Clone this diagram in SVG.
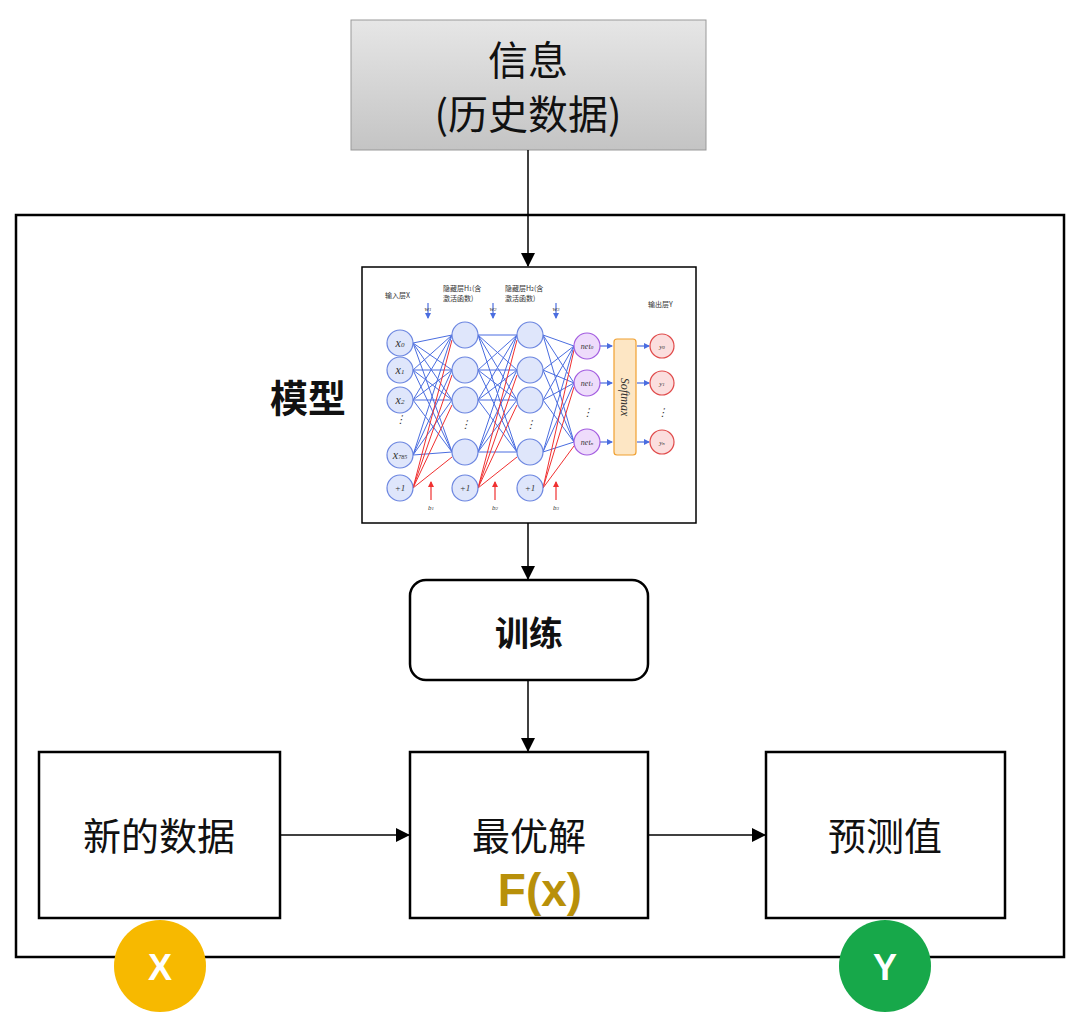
<svg xmlns="http://www.w3.org/2000/svg" width="1080" height="1033" viewBox="0 0 1080 1033">
<defs>
<linearGradient id="g" x1="0" y1="0" x2="0" y2="1"><stop offset="0" stop-color="#e6e6e6"/><stop offset="1" stop-color="#c4c4c4"/></linearGradient>
<marker id="a" markerWidth="14" markerHeight="14" refX="13" refY="7" orient="auto" markerUnits="userSpaceOnUse" viewBox="0 0 14 14"><path d="M0,0L14,7L0,14z" fill="#000"/></marker>
<marker id="b" markerWidth="6" markerHeight="6" refX="5" refY="3" orient="auto" markerUnits="userSpaceOnUse" viewBox="0 0 6 6"><path d="M0,0L6,3L0,6z" fill="#4a6de0"/></marker>
<marker id="r" markerWidth="6" markerHeight="6" refX="5" refY="3" orient="auto" markerUnits="userSpaceOnUse" viewBox="0 0 6 6"><path d="M0,0L6,3L0,6z" fill="#f03030"/></marker>
</defs>
<style>
.t{font-family:"Noto Sans CJK SC","Liberation Sans",sans-serif;fill:#111;text-anchor:middle}
.box{fill:#fff;stroke:#000;stroke-width:2.5}
.c{stroke:#000;stroke-width:1.5;fill:none;marker-end:url(#a)}
.bl{stroke:#4a6de0;stroke-width:1;fill:none}
.rd{stroke:#f03030;stroke-width:1;fill:none}
.ba{stroke:#4a6de0;stroke-width:1.2;fill:none;marker-end:url(#b)}
.ra{stroke:#f03030;stroke-width:1.2;fill:none;marker-end:url(#r)}
.n{fill:#dfe6fb;stroke:#6c86e0;stroke-width:1.2}
.o{fill:#eedcfb;stroke:#a35ce0;stroke-width:1.2}
.y{fill:#fbdede;stroke:#e04a4a;stroke-width:1.2}
.s{font-family:"Liberation Serif",serif;font-style:italic;text-anchor:middle;fill:#333}
.sm{font-family:"Noto Sans CJK SC",sans-serif;font-size:7px;fill:#333}
</style>
<rect width="1080" height="1033" fill="#fff"/>
<g id="outer"><rect x="16" y="215" width="1048" height="742" fill="none" stroke="#000" stroke-width="2.5"/></g>
<g id="info"><rect x="351" y="20" width="355" height="130" fill="url(#g)" stroke="#999" stroke-width="1"/>
<text class="t" x="528" y="75" font-size="40">信息</text><text class="t" x="528" y="129" font-size="40">(历史数据)</text></g>
<g id="model">
<text class="t" x="308" y="412" font-size="38" font-weight="bold">模型</text>
<rect x="362" y="267" width="334" height="256" fill="#fff" stroke="#000" stroke-width="1.5"/>
<g>
<path class="bl" d="M413,343L452,335M413,343L452,370M413,343L452,400M413,343L452,452M413,370L452,335M413,370L452,370M413,370L452,400M413,370L452,452M413,400L452,335M413,400L452,370M413,400L452,400M413,400L452,452M413,455L452,335M413,455L452,370M413,455L452,400M413,455L452,452"/>
<path class="rd" d="M413,488L452,340M413,488L452,375M413,488L452,405M413,488L452,457"/>
<path class="bl" d="M478,335L517,335M478,335L517,370M478,335L517,400M478,335L517,452M478,370L517,335M478,370L517,370M478,370L517,400M478,370L517,452M478,400L517,335M478,400L517,370M478,400L517,400M478,400L517,452M478,452L517,335M478,452L517,370M478,452L517,400M478,452L517,452"/>
<path class="rd" d="M478,488L517,340M478,488L517,375M478,488L517,405M478,488L517,457"/>
<path class="bl" d="M543,335L574,346M543,335L574,383M543,335L574,442M543,370L574,346M543,370L574,383M543,370L574,442M543,400L574,346M543,400L574,383M543,400L574,442M543,452L574,346M543,452L574,383M543,452L574,442"/>
<path class="rd" d="M543,488L574,350M543,488L574,387M543,488L574,446"/>
<path class="ba" d="M428,303V318"/><path class="ba" d="M493,303V318"/><path class="ba" d="M556,303V318"/>
<path class="ra" d="M431,500V482"/><path class="ra" d="M495,500V482"/><path class="ra" d="M556,500V482"/>
<path class="ba" d="M600,346H612"/><path class="ba" d="M600,383H612"/><path class="ba" d="M600,442H612"/>
<path class="ba" d="M637,346H649"/><path class="ba" d="M637,383H649"/><path class="ba" d="M637,442H649"/>
</g>
<circle class="n" cx="400" cy="343" r="13"/><circle class="n" cx="400" cy="370" r="13"/><circle class="n" cx="400" cy="400" r="13"/><circle class="n" cx="400" cy="455" r="13"/><circle class="n" cx="400" cy="488" r="13"/>
<circle class="n" cx="465" cy="335" r="13"/><circle class="n" cx="465" cy="370" r="13"/><circle class="n" cx="465" cy="400" r="13"/><circle class="n" cx="465" cy="452" r="13"/><circle class="n" cx="465" cy="488" r="13"/>
<circle class="n" cx="530" cy="335" r="13"/><circle class="n" cx="530" cy="370" r="13"/><circle class="n" cx="530" cy="400" r="13"/><circle class="n" cx="530" cy="452" r="13"/><circle class="n" cx="530" cy="488" r="13"/>
<circle class="o" cx="587" cy="346" r="13"/><circle class="o" cx="587" cy="383" r="13"/><circle class="o" cx="587" cy="442" r="13"/>
<rect x="614" y="339" width="22" height="116" rx="3" fill="#fde6c4" stroke="#f0a030" stroke-width="1.2"/>
<circle class="y" cx="662" cy="346" r="12"/><circle class="y" cx="662" cy="383" r="12"/><circle class="y" cx="662" cy="442" r="12"/>
<text class="s" font-size="12" x="400" y="347">x<tspan font-size="7">0</tspan></text>
<text class="s" font-size="12" x="400" y="374">x<tspan font-size="7">1</tspan></text>
<text class="s" font-size="12" x="400" y="404">x<tspan font-size="7">2</tspan></text>
<text class="s" font-size="12" x="400" y="459">x<tspan font-size="6">785</tspan></text>
<text class="s" font-size="9" font-style="normal" x="400" y="491">+1</text><text class="s" font-size="9" font-style="normal" x="465" y="491">+1</text><text class="s" font-size="9" font-style="normal" x="530" y="491">+1</text>
<text class="s" font-size="8" x="587" y="349">net<tspan font-size="5">0</tspan></text>
<text class="s" font-size="8" x="587" y="386">net<tspan font-size="5">1</tspan></text>
<text class="s" font-size="8" x="587" y="445">net<tspan font-size="5">n</tspan></text>
<text class="s" font-size="7" x="662" y="349">y<tspan font-size="5">0</tspan></text>
<text class="s" font-size="7" x="662" y="386">y<tspan font-size="5">1</tspan></text>
<text class="s" font-size="7" x="662" y="445">y<tspan font-size="5">n</tspan></text>
<text class="s" font-size="12" transform="translate(621,397) rotate(90)">Softmax</text>
<text class="s" font-size="11" x="400" y="423">⋮</text><text class="s" font-size="11" x="465" y="428">⋮</text><text class="s" font-size="11" x="530" y="428">⋮</text><text class="s" font-size="11" x="587" y="416">⋮</text><text class="s" font-size="11" x="662" y="416">⋮</text>
<text class="sm" x="385" y="298">输入层X</text>
<text class="sm" x="443" y="291">隐藏层H<tspan font-size="5">1</tspan>(含</text><text class="sm" x="443" y="301">激活函数)</text>
<text class="sm" x="505" y="291">隐藏层H<tspan font-size="5">2</tspan>(含</text><text class="sm" x="505" y="301">激活函数)</text>
<text class="sm" x="648" y="307">输出层Y</text>
<text class="s" font-size="7" x="428" y="311">w<tspan font-size="5">1</tspan></text><text class="s" font-size="7" x="493" y="311">w<tspan font-size="5">2</tspan></text><text class="s" font-size="7" x="556" y="311">w<tspan font-size="5">3</tspan></text>
<text class="s" font-size="7" x="431" y="510">b<tspan font-size="5">1</tspan></text><text class="s" font-size="7" x="495" y="510">b<tspan font-size="5">2</tspan></text><text class="s" font-size="7" x="556" y="510">b<tspan font-size="5">3</tspan></text>
</g>
<g id="train"><rect class="box" x="410" y="580" width="238" height="100" rx="16"/><text class="t" x="529" y="646" font-size="34" font-weight="bold">训练</text></g>
<g id="newdata"><rect class="box" x="39" y="752" width="241" height="166"/><text class="t" x="159" y="850" font-size="38">新的数据</text></g>
<g id="opt"><rect class="box" x="410" y="752" width="238" height="166"/><text class="t" x="529" y="850" font-size="38">最优解</text>
<text x="540" y="906" font-size="46" font-weight="bold" fill="#B8900A" text-anchor="middle" font-family="Liberation Sans,sans-serif">F(x)</text></g>
<g id="pred"><rect class="box" x="766" y="752" width="239" height="166"/><text class="t" x="885" y="850" font-size="38">预测值</text></g>
<g id="cx"><circle cx="160" cy="966" r="46" fill="#F7B900"/><text x="160" y="980" font-size="36" font-weight="bold" fill="#fff" text-anchor="middle" font-family="Liberation Sans,sans-serif">X</text></g>
<g id="cy"><circle cx="885" cy="966" r="46" fill="#17A84A"/><text x="885" y="980" font-size="36" font-weight="bold" fill="#fff" text-anchor="middle" font-family="Liberation Sans,sans-serif">Y</text></g>
<g id="connectors">
<path class="c" d="M528,150V266"/><path class="c" d="M528,523V579"/><path class="c" d="M528,680V751"/>
<path class="c" d="M280,835H409"/><path class="c" d="M648,835H765"/>
</g>
</svg>
